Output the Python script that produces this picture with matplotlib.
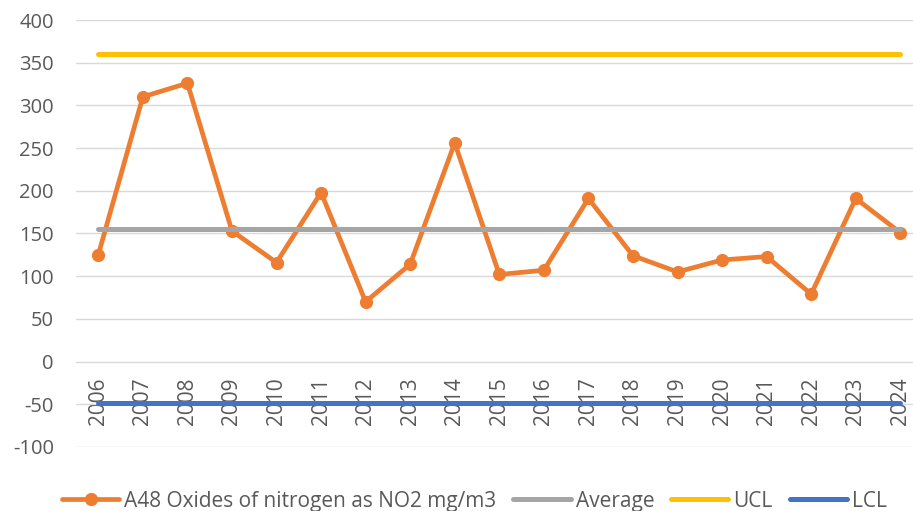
import matplotlib
matplotlib.use("Agg")
import matplotlib.pyplot as plt

years = ["2006", "2007", "2008", "2009", "2010", "2011", "2012", "2013", "2014", "2015",
         "2016", "2017", "2018", "2019", "2020", "2021", "2022", "2023", "2024"]
no2 = [125, 310, 326, 153, 116, 198, 70, 114, 256, 102, 107, 191, 124, 105, 119, 123, 79, 191, 151]
average = [155] * len(years)
ucl = [360] * len(years)
lcl = [-49] * len(years)
y_ticks = [-100, -50, 0, 50, 100, 150, 200, 250, 300, 350, 400]
y_tick_labels = ["-100", "-50", "0", "50", "100", "150", "200", "250", "300", "350", "400"]

plt.rcParams['font.family'] = ['Open Sans', 'DejaVu Sans']
text_color = "#595959"

fig = plt.figure(figsize=(9.13, 5.11), dpi=100)
ax = fig.add_axes([76 / 913, 1 - 447 / 511, 846.6 / 913, 427 / 511])

x = list(range(len(years)))
ax.plot(x, no2, color="#ED7D31", lw=3.4, marker="o", ms=8.5, zorder=3,
        solid_capstyle="round", solid_joinstyle="round",
        label="A48 Oxides of nitrogen as NO2 mg/m3")
ax.plot(x, average, color="#A5A5A5", lw=3.6, solid_capstyle="round", zorder=3.1, label="Average")
ax.plot(x, ucl, color="#FFC000", lw=3.6, solid_capstyle="round", zorder=3.2, label="UCL")
ax.plot(x, lcl, color="#4472C4", lw=3.6, solid_capstyle="round", zorder=3.3, label="LCL")

ax.set_xlim(-0.5, len(years) - 0.5)
ax.set_ylim(-100, 400)
ax.set_yticks(y_ticks)
ax.set_yticklabels(y_tick_labels)
ax.yaxis.grid(True, color="#D9D9D9", lw=1.0)
ax.set_axisbelow(True)

for s in ["top", "right", "left"]:
    ax.spines[s].set_visible(False)
ax.spines["bottom"].set_position(("data", 0))
ax.spines["bottom"].set_visible(False)

ax.set_xticks(x)
ax.set_xticklabels(years, rotation=90, va="top", ha="center")
ax.tick_params(axis="x", length=0, pad=11.5, labelsize=15, labelcolor=text_color)
ax.tick_params(axis="y", length=0, pad=16, labelsize=14.5, labelcolor=text_color)

handles, labels = ax.get_legend_handles_labels()
leg = fig.legend(handles, labels, loc="center left", bbox_to_anchor=(62 / 913, 1 - 501 / 511),
                 ncol=4, frameon=False, fontsize=15, handlelength=2.75, handletextpad=0.25,
                 columnspacing=0.8, borderpad=0, borderaxespad=0)
for t in leg.get_texts():
    t.set_color(text_color)

fig.savefig("out.png", dpi=100)
